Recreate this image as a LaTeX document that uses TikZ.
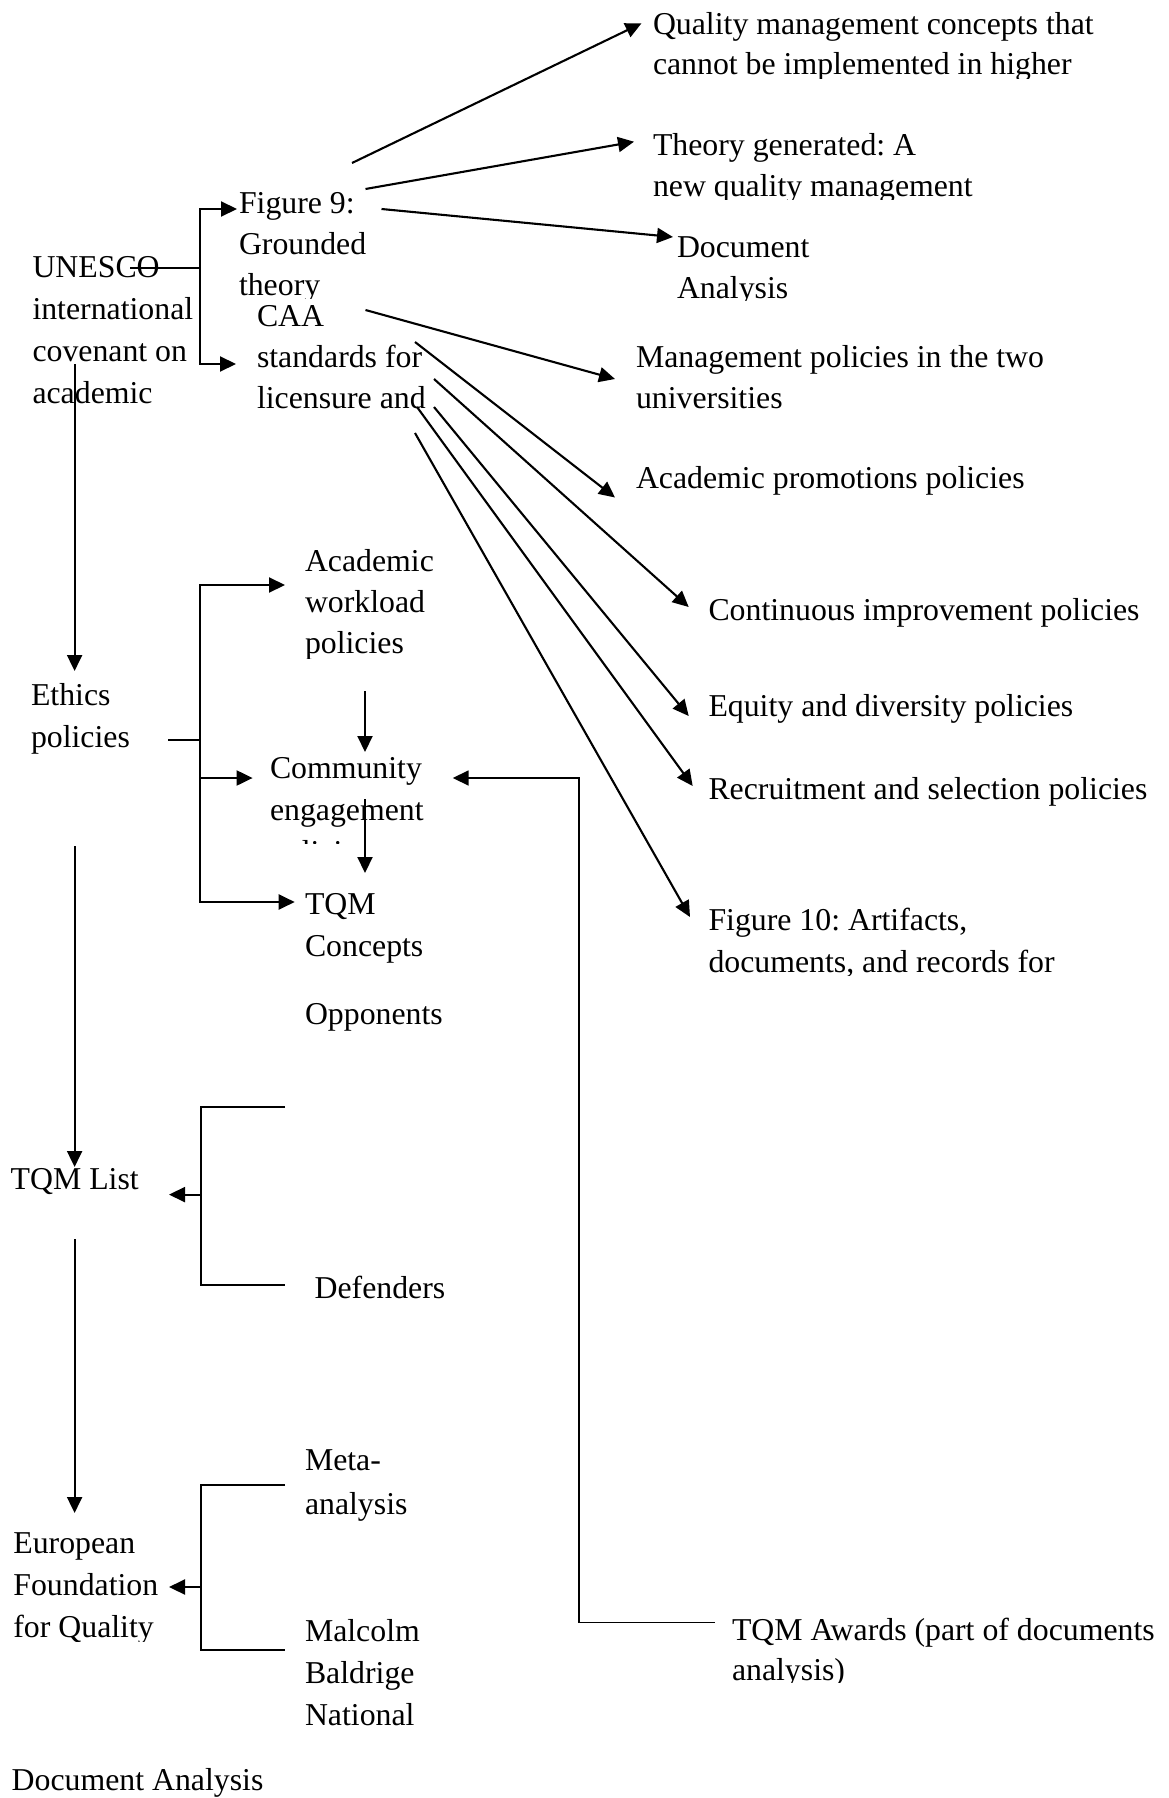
\documentclass[tikz,border=0pt]{standalone}
\usepackage{fontspec}
\setmainfont{Liberation Serif}
\usetikzlibrary{arrows.meta}
\frenchspacing

% stack of left-aligned lines; the baseline is that of the first line
\newcommand\lns[1]{\vtop{\halign{##\hfil\cr#1\crcr}}}

\tikzset{
  lbl/.style={anchor=base west, inner sep=0pt, outer sep=0pt},
  sp40/.style={font=\fontsize{31.8}{40}\selectfont},
  sp41/.style={font=\fontsize{31.8}{41}\selectfont},
  sp44/.style={font=\fontsize{31.8}{44}\selectfont},
  ln/.style={line width=2.1pt},
  thin/.style={line width=1.3pt},
  tip/.style={-{Triangle[length=16pt,width=15pt]}},
  arr/.style={ln, tip},
}

\begin{document}
\begin{tikzpicture}[x=1pt, y=-1pt, font=\fontsize{31.8}{42}\selectfont]
\useasboundingbox (0,0) rectangle (1168,1798);

% ---------- texts ----------
\begin{scope}
  \clip (640,0) rectangle (1168,78.5);
  \node[lbl, sp40] (qual) at (653,35) {\lns{Quality management concepts that\cr cannot be implemented in higher}};
\end{scope}
\begin{scope}
  \clip (640,110) rectangle (1168,199.5);
  \node[lbl, sp41] (theo) at (653,156) {\lns{Theory generated: A\cr new quality management}};
\end{scope}
\begin{scope}
  \clip (230,180) rectangle (420,298);
  \node[lbl, sp41] (fig9) at (239,213) {\lns{Figure 9:\cr Grounded\cr theory}};
\end{scope}
\begin{scope}
  \clip (660,225) rectangle (900,300.5);
  \node[lbl, sp41] (doc) at (677,257) {\lns{Document\cr Analysis}};
\end{scope}
\node[lbl] (unesco) at (32.5,277) {\lns{UNESCO\cr international\cr covenant on\cr academic}};
\node[lbl, sp41] (caa) at (257,326) {\lns{CAA\cr standards for\cr licensure and}};
\node[lbl, sp41] (mgmt) at (636,367) {\lns{Management policies in the two\cr universities}};
\node[lbl] (prom) at (636,488) {Academic promotions policies};
\begin{scope}
  \clip (295,540) rectangle (460,658.6);
  \node[lbl, sp41] (work) at (305,571.7) {\lns{Academic\cr workload\cr policies}};
\end{scope}
\node[lbl] (cont) at (708.5,620) {Continuous improvement policies};
\node[lbl] (eth) at (31,705) {\lns{Ethics\cr policies}};
\node[lbl] (equi) at (708.5,716) {Equity and diversity policies};
\begin{scope}
  \clip (260,745) rectangle (450,843);
  \node[lbl] (comm) at (270,778) {\lns{Community\cr engagement\cr policies}};
\end{scope}
\node[lbl] (recr) at (708.5,799) {Recruitment and selection policies};
\node[lbl] (tqmc) at (305,914) {\lns{TQM\cr Concepts}};
\begin{scope}
  \clip (700,895) rectangle (1168,975);
  \node[lbl] (fig10) at (708.5,930) {\lns{Figure 10: Artifacts,\cr documents, and records for}};
\end{scope}
\node[lbl] (opp) at (305,1024) {Opponents};
\node[lbl] (tqml) at (10.7,1189) {TQM List};
\node[lbl] (def) at (314.6,1298) {Defenders};
\node[lbl, sp44] (meta) at (305,1470) {\lns{Meta-\cr analysis}};
\begin{scope}
  \clip (0,1520) rectangle (180,1641);
  \node[lbl] (euro) at (13.4,1553) {\lns{European\cr Foundation\cr for Quality}};
\end{scope}
\node[lbl] (malc) at (305,1641.6) {\lns{Malcolm\cr Baldrige\cr National}};
\begin{scope}
  \clip (720,1600) rectangle (1168,1682.5);
  \node[lbl, sp40] (awd) at (732,1640.6) {\lns{TQM Awards (part of documents\cr analysis)}};
\end{scope}
\node[lbl] (docan) at (11.7,1790.7) {Document Analysis};

% ---------- connector ends ----------
\coordinate (fig9-a) at (352,163);   \coordinate (qual-in) at (641.5,23.3);
\coordinate (fig9-b) at (365.5,189); \coordinate (theo-in) at (634,141.7);
\coordinate (fig9-c) at (381.5,209); \coordinate (doc-in)  at (673,237);
\coordinate (caa-a) at (365.5,310);  \coordinate (mgmt-in) at (615,379);
\coordinate (caa-b) at (415,342);    \coordinate (prom-in) at (615,497.5);
\coordinate (caa-c) at (434,379);    \coordinate (cont-in) at (688.7,607);
\coordinate (caa-d) at (434,407);    \coordinate (equi-in) at (688.7,716);
\coordinate (caa-e) at (417,407);    \coordinate (recr-in) at (692.7,786);
\coordinate (caa-f) at (415,433);    \coordinate (fig10-in) at (690,917);

\coordinate (unesco-out) at (130,268); \coordinate (unesco-j) at (200,268);
\coordinate (fig9-in) at (237,209);    \coordinate (caa-in) at (236,364);
\coordinate (unesco-down) at (74.6,364); \coordinate (eth-in) at (74.6,671);

\coordinate (eth-out) at (168,740);  \coordinate (eth-j) at (200,740);
\coordinate (work-in) at (285,585);  \coordinate (comm-in) at (252.6,778);
\coordinate (tqmc-in) at (294.7,902);
\coordinate (work-down) at (365,691); \coordinate (comm-top) at (365,752);
\coordinate (comm-down) at (365,799); \coordinate (tqmc-top) at (365,873);
\coordinate (comm-right) at (452.7,778); \coordinate (ret-top) at (579,778);
\coordinate (awd-out) at (714.8,1622.5);

\coordinate (eth-down) at (74.6,846);  \coordinate (tqml-in) at (74.6,1167);
\coordinate (opp-stub) at (285,1107);  \coordinate (def-stub) at (285,1285);
\coordinate (tqml-j) at (201,1194.6);  \coordinate (tqml-right) at (169,1194.6);
\coordinate (tqml-down) at (74.6,1239); \coordinate (euro-in) at (74.6,1513);
\coordinate (meta-stub) at (285,1485); \coordinate (malc-stub) at (285,1650);
\coordinate (euro-j) at (201,1587);    \coordinate (euro-right) at (169,1587);

% ---------- connectors ----------
% fan out of the grounded theory and CAA standards
\draw[arr] (fig9-a) -- (qual-in);
\draw[arr] (fig9-b) -- (theo-in);
\draw[arr] (fig9-c) -- (doc-in);
\draw[arr] (caa-a) -- (mgmt-in);
\draw[arr] (caa-b) -- (prom-in);
\draw[arr] (caa-c) -- (cont-in);
\draw[arr] (caa-d) -- (equi-in);
\draw[arr] (caa-e) -- (recr-in);
\draw[arr] (caa-f) -- (fig10-in);

% UNESCO bracket
\draw[ln] (unesco-out) -- (unesco-j);
\draw[arr] (unesco-j) |- (fig9-in);
\draw[arr] (unesco-j) |- (caa-in);

% main column
\draw[arr] (unesco-down) -- (eth-in);
\draw[arr] (eth-down) -- (tqml-in);
\draw[arr] (tqml-down) -- (euro-in);

% ethics bracket
\draw[thin] (eth-out) -- (eth-j);
\draw[arr] (eth-j) |- (work-in);
\draw[arr] (eth-j) |- (comm-in);
\draw[arr] (eth-j) |- (tqmc-in);
\draw[arr] (work-down) -- (comm-top);
\draw[arr] (comm-down) -- (tqmc-top);

% TQM awards back to community engagement
\draw[line width=1.7pt, tip] (awd-out) -| (ret-top) -- (comm-right);

% TQM list bracket
\draw[ln] (opp-stub) -| (tqml-j) |- (def-stub);
\draw[arr] (tqml-j) -- (tqml-right);

% European foundation bracket
\draw[ln] (meta-stub) -| (euro-j) |- (malc-stub);
\draw[arr] (euro-j) -- (euro-right);

\end{tikzpicture}
\end{document}
